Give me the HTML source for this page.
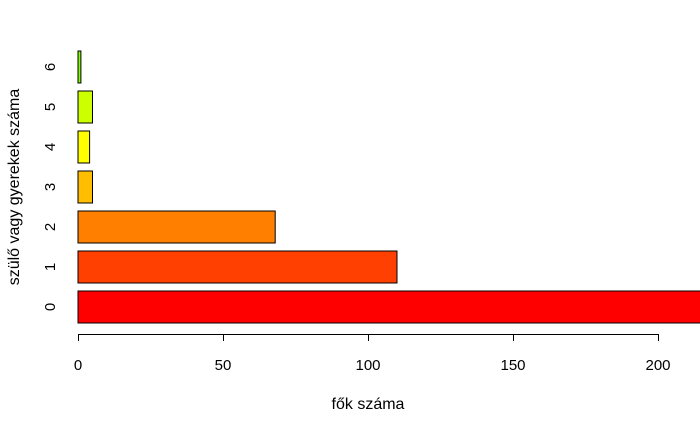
<!DOCTYPE html>
<html><head><meta charset="utf-8"><style>
body{margin:0;background:#fff}
svg{display:block;font-family:"Liberation Sans",Arial,sans-serif}
</style></head><body>
<svg id="c" width="700" height="432" viewBox="0 0 700 432">
<defs><clipPath id="clip"><rect x="0" y="0" width="700" height="432"/></clipPath></defs>
<g id="bars" clip-path="url(#clip)"></g>
<g id="xaxis"></g>
<g id="yaxis"></g>
<text x="368" y="409" font-size="16" text-anchor="middle">fők száma</text>
<text transform="translate(19,187) rotate(-90)" font-size="16" text-anchor="middle">szülő vagy gyerekek száma</text>
</svg>
<script>
const categories = ["0","1","2","3","4","5","6"];
const values = [678,110,68,5,4,5,1];
const colors = ["#FF0000","#FF4000","#FF8000","#FFBF00","#FFFF00","#CCFF00","#80FF00"];
const xTicks = [0,50,100,150,200];
const ns="http://www.w3.org/2000/svg";
function xs(v){return 78+v*2.9;}
function yc(i){return 307-i*40;}
const bars=document.getElementById('bars');
categories.forEach((c,i)=>{
  const r=document.createElementNS(ns,'rect');
  
  
  r.setAttribute('x',xs(0));r.setAttribute('y',yc(i)-16);
  r.setAttribute('width',xs(values[i])-xs(0));r.setAttribute('height',32);
  r.setAttribute('fill',colors[i]);r.setAttribute('stroke','#000');r.setAttribute('stroke-width','1');
  bars.appendChild(r);
  const t=document.createElementNS(ns,'text');
  
  
  t.setAttribute('transform','translate(55,'+yc(i)+') rotate(-90)');
  t.setAttribute('font-size','15');t.setAttribute('text-anchor','middle');
  t.textContent=c;
  document.getElementById('yaxis').appendChild(t);
});
const xa=document.getElementById('xaxis');
const l=document.createElementNS(ns,'line');


l.setAttribute('x1',xs(xTicks[0]));l.setAttribute('x2',xs(xTicks[xTicks.length-1]));
l.setAttribute('y1',334.5);l.setAttribute('y2',334.5);l.setAttribute('stroke','#000');
xa.appendChild(l);
xTicks.forEach(v=>{
  const tk=document.createElementNS(ns,'line');
  
  
  tk.setAttribute('x1',xs(v)+0.5);tk.setAttribute('x2',xs(v)+0.5);
  tk.setAttribute('y1',334);tk.setAttribute('y2',341);tk.setAttribute('stroke','#000');
  xa.appendChild(tk);
  const t=document.createElementNS(ns,'text');
  
  
  t.setAttribute('x',xs(v));t.setAttribute('y',370);
  t.setAttribute('font-size','15');t.setAttribute('text-anchor','middle');
  t.textContent=v;
  xa.appendChild(t);
});
</script>
</body></html>
